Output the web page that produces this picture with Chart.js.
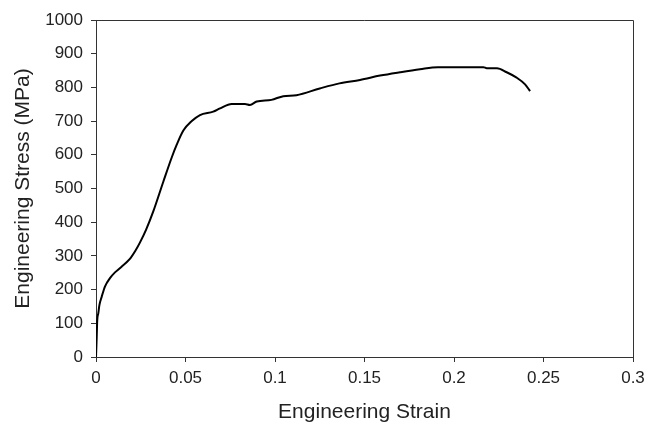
<!DOCTYPE html>
<html>
<head>
<meta charset="utf-8">
<script src="https://cdn.jsdelivr.net/npm/chart.js@4/dist/chart.umd.min.js"></script>
<style>
  body { margin: 0; background: #fff; }
  #wrap { width: 657px; height: 426px; position: relative; }
</style>
</head>
<body>
<div id="wrap"><canvas id="stressChart"></canvas></div>
<script>
// strain (-) and stress (MPa)
const strain = [0, 0.0004, 0.0007, 0.0013, 0.0019, 0.0032, 0.005, 0.0078, 0.0106, 0.013, 0.0143, 0.0171, 0.0195, 0.022, 0.0246, 0.028,
    0.032, 0.0376, 0.0423, 0.0451, 0.0488, 0.0535, 0.0581, 0.0655, 0.0693, 0.0758, 0.0832, 0.086, 0.0898, 0.098, 0.1046, 0.112,
    0.125, 0.136, 0.1475, 0.1587, 0.1698, 0.181, 0.191, 0.2034, 0.2164, 0.2183, 0.224, 0.2294, 0.235, 0.2397, 0.2425];
const stress = [0, 60, 110, 130, 154, 179, 209, 234, 251, 262, 268, 281, 295, 315, 340, 378,
    432, 520, 592, 630, 672, 700, 718, 728, 738, 751, 751, 748, 758, 763, 774, 777,
    797, 812, 822, 835, 845, 854, 860, 860, 860, 857, 857, 845, 829, 809, 789];

const xTicks = [0, 0.05, 0.1, 0.15, 0.2, 0.25, 0.3];
const yTicks = [0, 100, 200, 300, 400, 500, 600, 700, 800, 900, 1000];

const FONT = "'Liberation Sans', Arial, sans-serif";
const AXIS = '#333';

// top + right edges of the plot box
const boxPlugin = {
    id: 'box',
    afterDraw(chart) {
        const a = chart.chartArea, c = chart.ctx;
        c.save();
        c.strokeStyle = AXIS; c.lineWidth = 1;
        c.beginPath();
        c.moveTo(a.left, a.top + 0.5); c.lineTo(a.right + 0.5, a.top + 0.5); c.lineTo(a.right + 0.5, a.bottom);
        c.stroke();
        c.restore();
    }
};

new Chart(document.getElementById('stressChart'), {
    type: 'scatter',
    data: {
        datasets: [{
            data: strain.map((s, i) => ({ x: s, y: stress[i] })),
            showLine: true, borderColor: '#000', borderWidth: 2,
            pointRadius: 0, cubicInterpolationMode: 'monotone', fill: false
        }]
    },
    options: {
        responsive: true, maintainAspectRatio: false, animation: false,
        layout: { padding: { top: 20, right: 24, bottom: 0, left: 0 } },
        plugins: { legend: { display: false }, tooltip: { enabled: false } },
        scales: {
            x: {
                type: 'linear', min: 0, max: 0.3,
                afterBuildTicks: ax => { ax.ticks = xTicks.map(v => ({ value: v })); },
                afterFit: ax => { ax.height = 69; },
                grid: { drawOnChartArea: false, drawTicks: true, tickLength: 5, color: AXIS },
                border: { display: true, color: AXIS, width: 1 },
                ticks: { color: '#222', font: { family: FONT, size: 17 }, padding: 6, maxRotation: 0,
                    callback: v => String(parseFloat(v.toFixed(2))) },
                title: { display: true, text: 'Engineering Strain', color: '#222',
                    font: { family: FONT, size: 21 }, padding: { top: 0, bottom: 1 } }
            },
            y: {
                min: 0, max: 1000,
                afterBuildTicks: ax => { ax.ticks = yTicks.map(v => ({ value: v })); },
                afterFit: ax => { ax.width = 96; },
                grid: { drawOnChartArea: false, drawTicks: true, tickLength: 5, color: AXIS },
                border: { display: true, color: AXIS, width: 1 },
                ticks: { color: '#222', font: { family: FONT, size: 17 }, padding: 8,
                    callback: v => String(v) },
                title: { display: true, text: 'Engineering Stress (MPa)', color: '#222',
                    font: { family: FONT, size: 21 }, padding: { top: 11, bottom: 0 } }
            }
        }
    },
    plugins: [boxPlugin]
});
</script>
</body>
</html>
